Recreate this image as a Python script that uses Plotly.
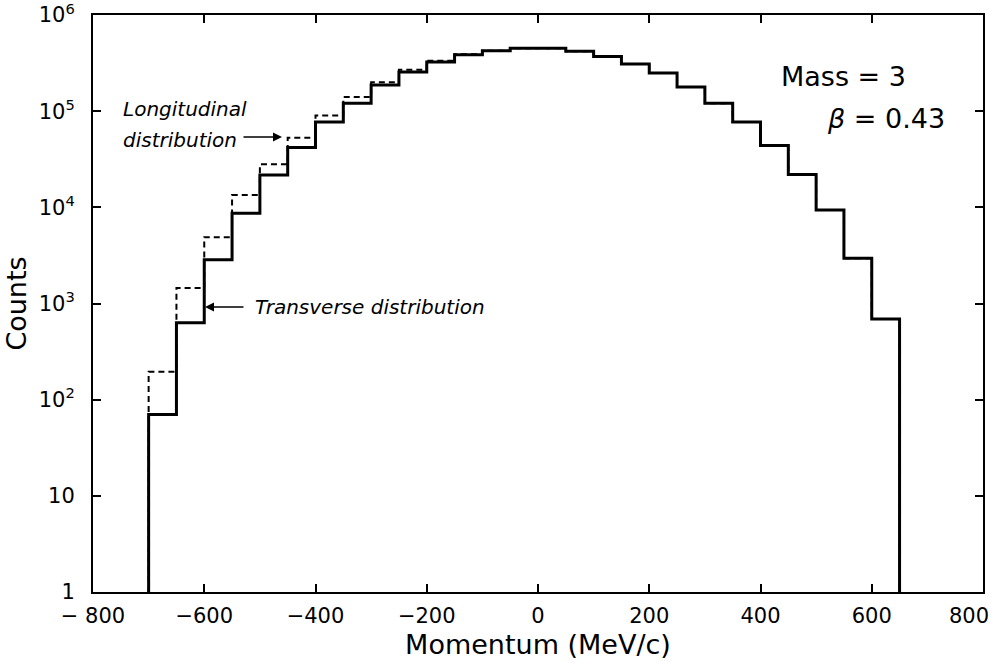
import plotly.graph_objects as go

# Bin edges (MeV/c), 50 MeV/c wide
bin_edges = [-700, -650, -600, -550, -500, -450, -400, -350, -300, -250, -200,
             -150, -100, -50, 0, 50, 100, 150, 200, 250, 300, 350, 400, 450,
             500, 550, 600, 650]

transverse_counts = [70, 630, 2850, 8700, 21700, 42000, 77000, 121000, 187000,
                     255000, 325000, 385000, 425000, 450000, 450000, 420000,
                     370000, 310000, 250000, 178000, 121000, 77000, 44000,
                     22000, 9400, 2950, 690]

longitudinal_counts = [195, 1450, 4900, 13400, 28000, 53000, 90000, 140000,
                       200000, 270000, 335000, 390000, 425000, 450000, 450000,
                       420000, 370000, 310000, 250000, 178000, 121000, 77000,
                       44000, 22000, 9400, 2950, 690]

x_tick_vals = [-800, -600, -400, -200, 0, 200, 400, 600, 800]
x_tick_text = ["\u2212 800", "\u2212600", "\u2212400", "\u2212200", "0", "200", "400", "600", ""]
last_x_label = "800"   # drawn slightly inset so it stays on the page, as in the reference
y_tick_vals = [1, 10, 100, 1000, 10000, 100000, 1000000]
y_tick_text = ["1", "10", "10<sup>2</sup>", "10<sup>3</sup>", "10<sup>4</sup>",
               "10<sup>5</sup>", "10<sup>6</sup>"]

FONT = "'DejaVu Sans', sans-serif"


def step_xy(edges, counts):
    xs = [edges[0]] + list(edges)
    ys = [1] + list(counts) + [1]
    return xs, ys


fig = go.Figure()

lx, ly = step_xy(bin_edges, longitudinal_counts)
fig.add_trace(go.Scatter(x=lx, y=ly, mode="lines", line_shape="hv",
                         line=dict(color="black", width=2, dash="6px,4px"),
                         name="Longitudinal", showlegend=False))

tx, ty = step_xy(bin_edges, transverse_counts)
fig.add_trace(go.Scatter(x=tx, y=ty, mode="lines", line_shape="hv",
                         line=dict(color="black", width=3),
                         name="Transverse", showlegend=False))

# plot area geometry in pixels (for placing annotations in paper coords)
L, R, T, B = 93, 983, 15, 592
W, H = R - L, B - T


def px(x):
    return (x - L) / W


def py(y):
    return (B - y) / H


ann = []
ann.append(dict(x=px(121), y=py(109), xref="paper", yref="paper", xanchor="left",
                yanchor="middle", showarrow=False, text="<i>Longitudinal</i>",
                font=dict(size=20, family=FONT, color="black")))
ann.append(dict(x=px(121), y=py(140), xref="paper", yref="paper", xanchor="left",
                yanchor="middle", showarrow=False, text="<i>distribution</i>",
                font=dict(size=20, family=FONT, color="black")))
ann.append(dict(x=px(282), y=py(137), xref="paper", yref="paper", text="",
                showarrow=True, ax=-40, ay=0, arrowhead=2, arrowsize=1.2,
                arrowwidth=1.5, arrowcolor="black"))
ann.append(dict(x=px(253), y=py(307), xref="paper", yref="paper", xanchor="left",
                yanchor="middle", showarrow=False, text="<i>Transverse distribution</i>",
                font=dict(size=20, family=FONT, color="black")))
ann.append(dict(x=px(205), y=py(307), xref="paper", yref="paper", text="",
                showarrow=True, ax=40, ay=0, arrowhead=2, arrowsize=1.2,
                arrowwidth=1.5, arrowcolor="black"))
ann.append(dict(x=px(908), y=py(77), xref="paper", yref="paper", xanchor="right",
                yanchor="middle", showarrow=False, text="Mass = 3",
                font=dict(size=27, family=FONT, color="black")))
ann.append(dict(x=px(947), y=py(118), xref="paper", yref="paper", xanchor="right",
                yanchor="middle", showarrow=False, text="<i>\u03b2</i> = 0.43",
                font=dict(size=27, family=FONT, color="black")))
ann.append(dict(x=x_tick_vals[-1], xref="x", y=0, yref="paper", xanchor="right",
                yanchor="middle", xshift=8, yshift=-24, showarrow=False,
                text=last_x_label, font=dict(size=21, family=FONT, color="black")))

fig.update_layout(
    width=997, height=671,
    margin=dict(l=L, r=997 - R, t=T, b=671 - B, autoexpand=False),
    paper_bgcolor="white", plot_bgcolor="white",
    font=dict(family=FONT, color="black", size=21),
    annotations=ann,
    showlegend=False,
)

fig.update_xaxes(
    range=[-800, 800], tickvals=x_tick_vals, ticktext=x_tick_text,
    ticks="inside", ticklen=8, tickwidth=2, tickcolor="black",
    showline=True, linecolor="black", linewidth=2, mirror="ticks",
    showgrid=False, zeroline=False, ticklabeloverflow="allow",
    automargin=False, ticklabelstandoff=4,
    tickfont=dict(size=21, family=FONT, color="black"),
    title=dict(text="Momentum (MeV/c)", font=dict(size=27, family=FONT, color="black"),
               standoff=8),
)
fig.update_yaxes(
    type="log", range=[0, 6], tickvals=y_tick_vals, ticktext=y_tick_text,
    ticks="inside", ticklen=8, tickwidth=2, tickcolor="black",
    showline=True, linecolor="black", linewidth=2,
    mirror="ticks", showgrid=False, zeroline=False, ticklabelstandoff=12,
    ticklabeloverflow="allow", automargin=False,
    tickfont=dict(size=21, family=FONT, color="black"),
    title=dict(text="Counts", font=dict(size=27, family=FONT, color="black"),
               standoff=4),
)

fig.write_html("out.html")
